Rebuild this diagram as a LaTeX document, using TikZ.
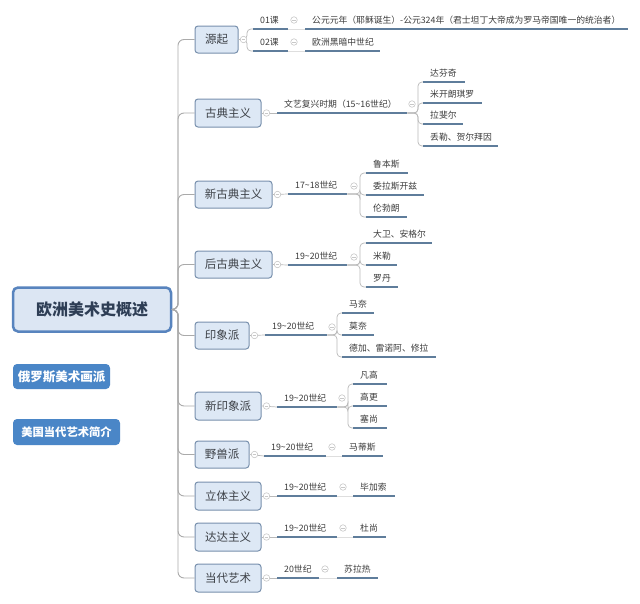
\documentclass[tikz,border=0pt]{standalone}
\usepackage{fontspec}
\setmainfont{Noto Sans CJK SC}
\definecolor{boxfill}{RGB}{221,232,245}
\definecolor{boxline}{RGB}{120,144,173}
\definecolor{mainfill}{RGB}{220,230,243}
\definecolor{mainline}{RGB}{88,132,190}
\definecolor{sidefill}{RGB}{74,134,199}
\definecolor{ulcol}{RGB}{95,125,155}
\definecolor{conncol}{RGB}{185,185,185}
\definecolor{trunkcol}{RGB}{170,170,170}
\definecolor{iconcol}{RGB}{200,200,200}
\definecolor{leaftext}{RGB}{60,60,60}
\definecolor{boxtext}{RGB}{60,64,70}
\definecolor{maintext}{RGB}{46,62,85}
\newcommand{\leaffont}{\fontsize{8.8}{10}\selectfont}
\tikzset{
  topicbox/.style={draw=boxline, fill=boxfill, line width=1pt, rounded corners=3pt,
    inner sep=0pt, text=boxtext, font=\fontsize{11.5}{13}\selectfont},
  mainbox/.style={draw=mainline, fill=mainfill, line width=2.5pt, rounded corners=5pt,
    inner sep=0pt, text=maintext, font=\fontsize{16}{18}\selectfont\bfseries,
    minimum width=158pt, minimum height=44pt},
  sidebox/.style={fill=sidefill, rounded corners=4pt, inner sep=0pt, text=white,
    minimum height=25pt},
  leaf/.style={anchor=south west, inner xsep=0pt, inner ysep=2.8pt, text height=7.5pt,
    text depth=2.5pt, text width=#1, align=left, font=\leaffont, text=leaftext,
    execute at begin node={\hspace*{7pt}}},
  uline/.style={draw=ulcol, line width=1.6pt},
  conn/.style={draw=conncol, line width=0.7pt, rounded corners=4pt},
  faint/.style={draw=iconcol!60, line width=0.5pt},
  trunk/.style={draw=trunkcol, line width=0.9pt, rounded corners=6pt},
  icon/.style={circle, draw=iconcol, line width=0.6pt, minimum size=6.5pt, inner sep=0pt,
    path picture={\draw[iconcol, line width=0.6pt]
      ([xshift=-1.8pt]path picture bounding box.center) --
      ([xshift=1.8pt]path picture bounding box.center);}}
}
\begin{document}
\begin{tikzpicture}[x=1pt,y=-1pt]
\useasboundingbox (0,0) rectangle (640,603);
\fill[white] (0,0) rectangle (640,603);

% main and side nodes
\node[mainbox] (main) at (92,309.5) {欧洲美术史概述};
\node[sidebox, minimum width=97pt, font=\fontsize{12.5}{14}\selectfont\bfseries] (ru) at (61.5,376.5) {俄罗斯美术画派};
\node[sidebox, minimum width=107pt, minimum height=26pt, font=\fontsize{11.3}{13}\selectfont\bfseries] (us) at (66.5,432) {美国当代艺术简介};

% second level
\node[topicbox, minimum width=43pt, minimum height=27pt] (yq) at (216.5,39.5) {源起};
\node[topicbox, minimum width=66pt, minimum height=28pt] (gd) at (228,113) {古典主义};
\node[topicbox, minimum width=77pt, minimum height=27pt] (xgd) at (233.5,194.5) {新古典主义};
\node[topicbox, minimum width=77pt, minimum height=27pt] (hgd) at (233.5,264.5) {后古典主义};
\node[topicbox, minimum width=54pt, minimum height=27pt] (yx) at (222,335.5) {印象派};
\node[topicbox, minimum width=66pt, minimum height=28pt] (xyx) at (228,406) {新印象派};
\node[topicbox, minimum width=54pt, minimum height=27pt] (ysp) at (222,454.5) {野兽派};
\node[topicbox, minimum width=66pt, minimum height=28pt] (lt) at (228,496) {立体主义};
\node[topicbox, minimum width=66pt, minimum height=28pt] (dd) at (228,537) {达达主义};
\node[topicbox, minimum width=66pt, minimum height=28pt] (dy) at (228,578) {当代艺术};

% trunk
\foreach \b in {yq,gd,xgd,hgd,yx,xyx,ysp,lt,dd,dy}
  \draw[trunk] (main.east) -- (178,309.5) -- (178,0 |- \b.west) -- (\b.west);

% leaves: 源起
\node[leaf=35pt] (l01) at (253,29) {01课};
\node[leaf=323pt] (l01a) at (305,29) {公元元年（耶稣诞生）-公元324年（君士坦丁大帝成为罗马帝国唯一的统治者）};
\node[leaf=35pt] (l02) at (253,51) {02课};
\node[leaf=75pt] (l02a) at (305,51) {欧洲黑暗中世纪};
% 古典主义
\node[leaf=130pt] (wy) at (277,113) {文艺复兴时期（15\textasciitilde16世纪）};
\node[leaf=42pt] (dfq) at (423,82) {达芬奇};
\node[leaf=59pt] (mkl) at (423,103) {米开朗琪罗};
\node[leaf=40pt] (lfe) at (423,124) {拉斐尔};
\node[leaf=75pt] (dl) at (423,146) {丢勒、贺尔拜因};
% 新古典主义
\node[leaf=59pt] (sa) at (288,194) {17\textasciitilde18世纪};
\node[leaf=42pt] (lbs) at (366,173) {鲁本斯};
\node[leaf=58pt] (wls) at (366,195) {委拉斯开兹};
\node[leaf=41pt] (lbl) at (366,217) {伦勃朗};
% 后古典主义
\node[leaf=59pt] (sb) at (288,265) {19\textasciitilde20世纪};
\node[leaf=66pt] (dw) at (366,243) {大卫、安格尔};
\node[leaf=31pt] (ml) at (366,265) {米勒};
\node[leaf=32pt] (ld) at (366,287) {罗丹};
% 印象派
\node[leaf=62pt] (sc) at (265,335) {19\textasciitilde20世纪};
\node[leaf=32pt] (mn) at (342,313) {马奈};
\node[leaf=32pt] (mon) at (342,335) {莫奈};
\node[leaf=94pt] (dj) at (342,357) {德加、雷诺阿、修拉};
% 新印象派
\node[leaf=60pt] (sd) at (277,407) {19\textasciitilde20世纪};
\node[leaf=34pt] (fg) at (353,384) {凡高};
\node[leaf=34pt] (gg) at (353,406) {高更};
\node[leaf=34pt] (ss) at (353,428) {塞尚};
% 野兽派
\node[leaf=62pt] (se) at (264,456) {19\textasciitilde20世纪};
\node[leaf=41pt] (mds) at (342,456) {马蒂斯};
% 立体主义
\node[leaf=60pt] (sf) at (277,496) {19\textasciitilde20世纪};
\node[leaf=42pt] (bjs) at (353,496) {毕加索};
% 达达主义
\node[leaf=60pt] (sg) at (277,537) {19\textasciitilde20世纪};
\node[leaf=33pt] (dsh) at (353,537) {杜尚};
% 当代艺术
\node[leaf=42pt] (sh) at (277,578) {20世纪};
\node[leaf=41pt] (slr) at (337,578) {苏拉热};

% connectors box -> first leaf
\draw[conn] (yq.east) -- (247,39.5) -- (247,29) -- (l01.south west);
\draw[conn] (yq.east) -- (247,39.5) -- (247,51) -- (l02.south west);
\foreach \b/\l in {gd/wy,xgd/sa,hgd/sb,yx/sc,xyx/sd,ysp/se,lt/sf,dd/sg,dy/sh}
  \draw[conn] (\b.east) -- (\l.south west);

% leaf -> leaf single
\foreach \a/\b in {l01/l01a,l02/l02a,se/mds,sf/bjs,sg/dsh,sh/slr}
  \draw[faint] (\a.south east) -- (\b.south west);

% brackets
\foreach \c in {dfq,mkl,lfe,dl}
  \draw[conn] (wy.south east) -- (418,113) -- (418,0 |- \c.south west) -- (\c.south west);
\foreach \c in {lbs,wls,lbl}
  \draw[conn] (sa.south east) -- (360,194) -- (360,0 |- \c.south west) -- (\c.south west);
\foreach \c in {dw,ml,ld}
  \draw[conn] (sb.south east) -- (360,265) -- (360,0 |- \c.south west) -- (\c.south west);
\foreach \c in {mn,mon,dj}
  \draw[conn] (sc.south east) -- (337,335) -- (337,0 |- \c.south west) -- (\c.south west);
\foreach \c in {fg,gg,ss}
  \draw[conn] (sd.south east) -- (348,407) -- (348,0 |- \c.south west) -- (\c.south west);

% underlines
\foreach \n in {l01,l01a,l02,l02a,wy,dfq,mkl,lfe,dl,sa,lbs,wls,lbl,sb,dw,ml,ld,
  sc,mn,mon,dj,sd,fg,gg,ss,se,mds,sf,bjs,sg,dsh,sh,slr}
  \draw[uline] (\n.south west) -- (\n.south east);

% collapse icons
\foreach \b in {yq,gd,xgd,hgd,yx,xyx,ysp,lt,dd,dy}
  \node[icon, fill=white] (i\b) at ([xshift=5pt]\b.east) {};
\node[icon] (i01) at (294,20) {};
\node[icon] (i02) at (294,42) {};
\node[icon] (iwy) at (412,104) {};
\node[icon] (isa) at (354,186) {};
\node[icon] (isb) at (354,257) {};
\node[icon] (isc) at (332,327) {};
\node[icon] (isd) at (342,398) {};
\node[icon] (ise) at (332,447) {};
\node[icon] (isf) at (343,487) {};
\node[icon] (isg) at (343,528) {};
\node[icon] (ish) at (325,569) {};
\end{tikzpicture}
\end{document}
